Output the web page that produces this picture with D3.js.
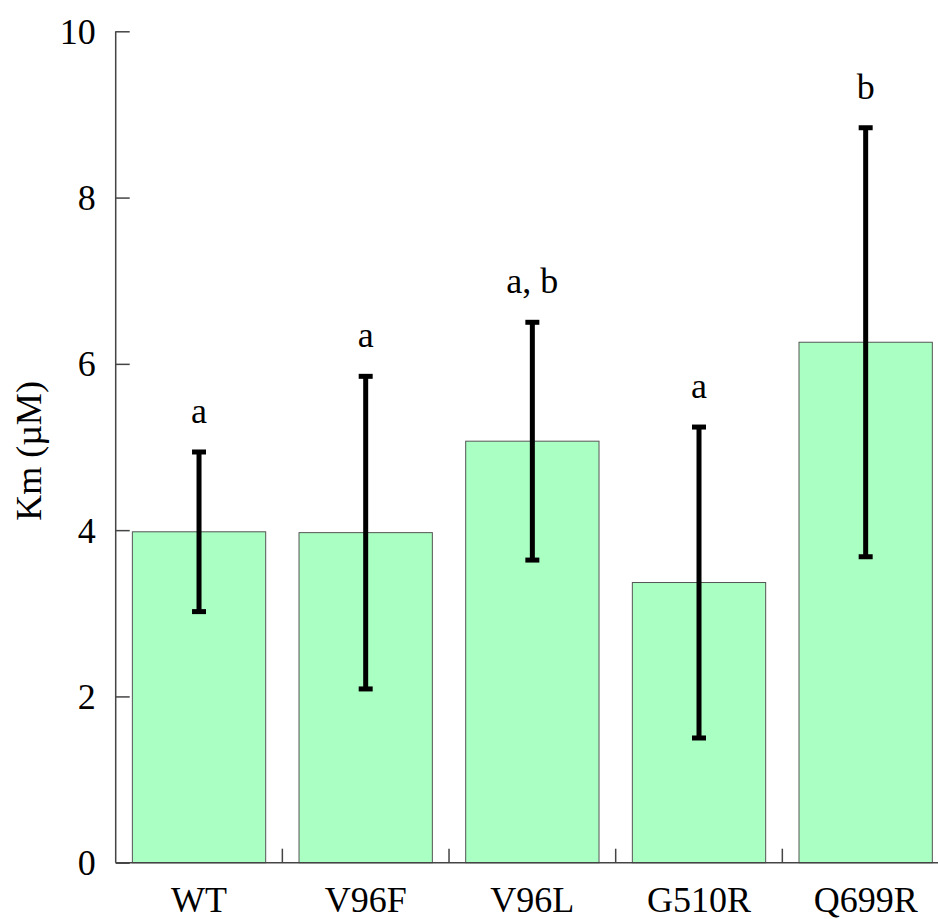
<!DOCTYPE html>
<html>
<head>
<meta charset="utf-8">
<script src="https://cdn.jsdelivr.net/npm/d3@7"></script>
<style>
  html, body { margin: 0; padding: 0; background: #fff; }
  svg { display: block; }
  text { font-family: "Liberation Serif", "Times New Roman", serif; fill: #000; }
</style>
</head>
<body>
<svg id="chart" width="938" height="919"></svg>
<script>
const categories = ["WT", "V96F", "V96L", "G510R", "Q699R"];
const means = [3.98, 3.97, 5.07, 3.37, 6.26];
const errors = [0.96, 1.88, 1.43, 1.87, 2.58];
const letters = ["a", "a", "a, b", "a", "b"];
const yTicks = [0, 2, 4, 6, 8, 10];

const svg = d3.select("#chart");
const plotLeft = 115.7, plotRight = 949, plotTop = 31.3, plotBottom = 862.7;

const x = d3.scaleBand().domain(categories).range([plotLeft, plotRight]).paddingInner(0.2).paddingOuter(0.1);
const y = d3.scaleLinear().domain([0, 10]).range([plotBottom, plotTop]);

// bars
svg.append("g").selectAll("rect").data(categories).join("rect")
  .attr("x", d => x(d))
  .attr("y", (d, i) => y(means[i]))
  .attr("width", x.bandwidth())
  .attr("height", (d, i) => y(0) - y(means[i]))
  .attr("fill", "#aaffc3")
  .attr("stroke", "#555")
  .attr("stroke-width", 1);

// y axis
const yAxis = d3.axisRight(y).tickValues(yTicks).tickSize(14).tickFormat("");
const yg = svg.append("g").attr("transform", `translate(${plotLeft},0)`).call(yAxis);
yg.select(".domain").attr("stroke", "#444").attr("stroke-width", 1.5).attr("d", `M0,${plotBottom}V${plotTop}`);
yg.selectAll(".tick line").attr("stroke", "#444").attr("stroke-width", 1.5);
svg.append("g").selectAll("text").data(yTicks).join("text")
  .attr("x", plotLeft - 20).attr("y", d => y(d)).attr("dy", "0.35em")
  .attr("text-anchor", "end").attr("font-size", 36).text(d => d);

// x axis
const xTickPos = categories.slice(1).map(c => x(c) - x.step() * x.paddingInner() / 2);
svg.append("line").attr("x1", plotLeft).attr("x2", plotRight).attr("y1", plotBottom).attr("y2", plotBottom)
  .attr("stroke", "#444").attr("stroke-width", 1.5);
svg.append("g").selectAll("line").data(xTickPos).join("line")
  .attr("x1", d => d).attr("x2", d => d).attr("y1", plotBottom).attr("y2", plotBottom - 14)
  .attr("stroke", "#444").attr("stroke-width", 1.5);
svg.append("g").selectAll("text").data(categories).join("text")
  .attr("x", d => x(d) + x.bandwidth() / 2).attr("y", plotBottom + 49)
  .attr("text-anchor", "middle").attr("font-size", 36).text(d => d);

// error bars
const eg = svg.append("g").attr("stroke", "#000").attr("stroke-width", 5);
categories.forEach((c, i) => {
  const cx = x(c) + x.bandwidth() / 2;
  const hi = y(means[i] + errors[i]), lo = y(means[i] - errors[i]);
  eg.append("line").attr("x1", cx).attr("x2", cx).attr("y1", hi).attr("y2", lo);
  eg.append("line").attr("x1", cx - 7).attr("x2", cx + 7).attr("y1", hi).attr("y2", hi);
  eg.append("line").attr("x1", cx - 7).attr("x2", cx + 7).attr("y1", lo).attr("y2", lo);
});

// significance letters
svg.append("g").selectAll("text").data(categories).join("text")
  .attr("x", d => x(d) + x.bandwidth() / 2)
  .attr("y", (d, i) => y(means[i] + errors[i]) - 29)
  .attr("text-anchor", "middle").attr("font-size", 36).text((d, i) => letters[i]);

// y label
svg.append("text").attr("transform", `translate(41,451) rotate(-90)`)
  .attr("text-anchor", "middle").attr("font-size", 36).text("Km (µM)");
</script>
</body>
</html>
